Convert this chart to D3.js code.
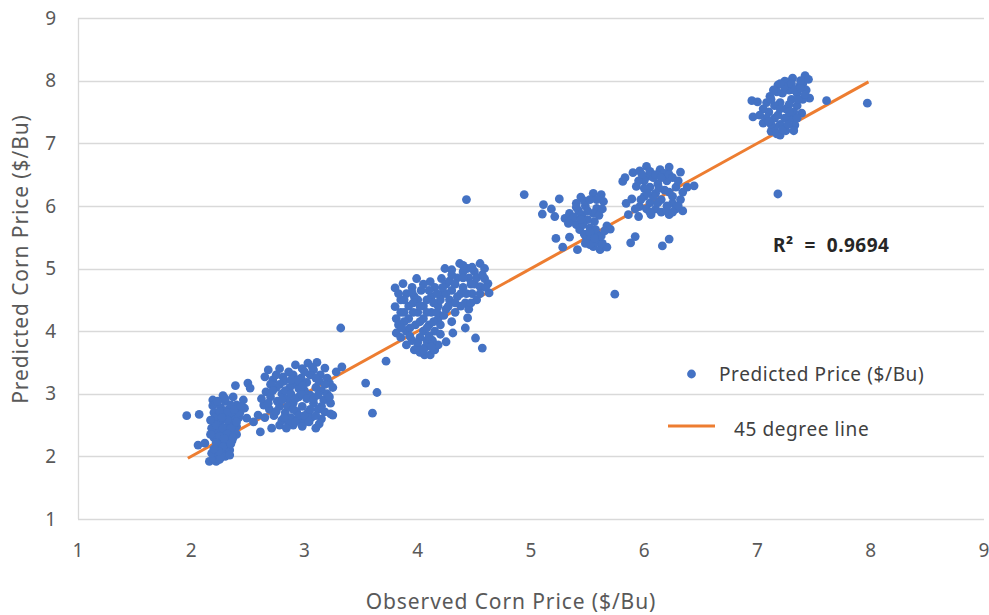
<!DOCTYPE html>
<html>
<head>
<meta charset="utf-8">
<title>Observed vs Predicted Corn Price</title>
<style>
    body { margin: 0; background: #fff; }
    text { font-family: "Noto Sans", "Open Sans", sans-serif; }
    .tick-label { font-size: 19px; fill: #595959; }
    .axis-title { font-size: 21px; fill: #595959; letter-spacing: 0.9px; }
    .legend-text { font-size: 19px; fill: #404040; letter-spacing: 0.6px; }
    .r2 { font-size: 19px; font-weight: bold; fill: #262626; white-space: pre; letter-spacing: 0.5px; }
</style>
</head>
<body>
<svg width="989" height="615"></svg>
<script src="https://d3js.org/d3.v7.min.js"></script>
<script>

// tick values on both axes
var xTicks = [1, 2, 3, 4, 5, 6, 7, 8, 9];
var yTicks = [1, 2, 3, 4, 5, 6, 7, 8, 9];

// 45 degree reference line, from lowest to highest observed price
var lineRange = [1.97, 7.98];

var rSquared = "0.9694";

// [observed, predicted], cluster by cluster
var cluster2 = [
    [1.96,2.65],[2.07,2.67],[2.06,2.18],[2.12,2.21],[2.16,1.92],[2.22,1.92],[2.20,1.97],[2.25,1.95],
    [2.18,2.05],[2.24,2.04],[2.19,2.90],[2.19,2.81],[2.28,2.97],[2.22,2.85],[2.26,2.78],[2.30,2.88],
    [2.33,2.75],[2.39,3.13],[2.37,2.95],[2.46,2.90],[2.50,3.17],[2.52,3.09],[2.47,2.77],[2.49,2.61],
    [2.55,2.55],[2.61,2.39],[2.59,2.66],[2.40,2.82],[2.20,2.70],[2.24,2.65],[2.28,2.60],[2.32,2.64],
    [2.36,2.68],[2.21,2.55],[2.26,2.50],[2.30,2.45],[2.34,2.52],[2.38,2.58],[2.40,2.48],[2.22,2.40],
    [2.27,2.35],[2.31,2.30],[2.35,2.38],[2.25,2.25],[2.29,2.20],[2.33,2.15],[2.20,2.30],[2.23,2.15],
    [2.27,2.10],[2.31,2.05],[2.36,2.25],[2.40,2.35],[2.42,2.62],[2.18,2.45],[2.24,2.58],[2.28,2.72],
    [2.35,2.82],[2.43,2.70],[2.38,2.42],[2.30,2.00],[2.26,1.98],[2.34,2.10],[2.21,2.62],[2.34,2.02],
    [2.23,2.88],[2.30,2.92],[2.25,2.72],[2.32,2.70],[2.38,2.75],[2.22,2.50],[2.28,2.45],[2.35,2.45],
    [2.25,2.32],[2.32,2.36],[2.29,2.28],[2.37,2.30],[2.22,2.22],[2.28,2.15],[2.35,2.20],[2.24,2.08],
    [2.20,2.12],[2.32,2.58],[2.27,2.62],[2.40,2.55],[2.44,2.80],[2.17,2.58],[2.17,2.35]
];

var cluster3 = [
    [2.68,3.38],[2.65,3.27],[2.72,3.22],[2.66,3.03],[2.64,2.82],[2.71,2.45],[2.92,3.46],[3.03,3.49],
    [3.11,3.50],[3.18,3.41],[3.33,3.43],[3.22,3.17],[3.17,2.90],[3.18,2.71],[3.25,2.66],[3.10,2.45],
    [2.90,2.50],[2.78,2.50],[2.81,3.27],[2.86,3.35],[2.98,3.40],[3.08,3.38],[3.14,3.30],[2.75,3.10],
    [2.80,3.00],[2.85,2.92],[2.90,2.85],[2.95,2.95],[3.00,3.05],[3.05,2.98],[3.10,3.10],[3.15,3.05],
    [2.78,2.80],[2.83,2.70],[2.88,2.62],[2.93,2.72],[2.98,2.80],[3.03,2.70],[3.08,2.85],[3.12,2.75],
    [2.70,2.95],[2.73,2.65],[2.80,2.58],[2.86,2.52],[2.95,2.58],[3.00,2.55],[3.06,2.62],[2.92,3.15],
    [2.97,3.25],[3.02,3.18],[2.87,3.10],[2.82,3.20],[3.13,3.20],[3.20,3.00],[3.23,2.85],[2.69,2.75],
    [2.76,2.88],[2.95,3.08],[3.05,3.30],[2.90,3.30],[2.84,2.45],[2.98,2.48],[3.15,2.60],[3.28,3.35],
    [3.20,3.25],[2.70,3.15],[2.62,2.92],[2.65,2.62],[3.23,2.68],
    [2.75,3.30],[2.78,3.15],[2.83,3.05],[2.88,3.00],[2.92,2.92],[2.97,3.00],[3.02,2.92],[3.08,2.92],
    [3.12,2.98],[3.18,3.15],[3.10,3.25],[3.00,3.35],[2.94,3.22],[2.88,3.22],[2.80,2.90],[2.85,2.80],
    [2.90,2.75],[2.95,2.65],[3.00,2.65],[3.05,2.75],[3.10,2.65],[3.15,2.80],[2.75,2.72],[2.82,2.62],
    [2.92,2.55],[3.04,2.55],[3.13,2.52],[2.72,3.05],[2.68,2.85],[3.25,3.10],[3.22,2.95],[2.98,3.12],
    [3.07,3.42],[2.78,3.40]
];

var scattered = [
    [3.32,4.05],[3.54,3.17],[3.64,3.02],[3.60,2.69],[3.72,3.52],[4.43,6.10],[5.74,4.59],[7.18,6.19]
];

var cluster4 = [
    [3.80,4.69],[3.87,4.76],[3.99,4.84],[4.11,4.79],[4.21,4.84],[4.24,5.00],[4.37,5.08],[4.44,5.00],
    [4.55,5.08],[4.59,5.00],[4.59,4.84],[4.62,4.76],[4.63,4.61],[4.55,4.71],[4.44,4.21],[4.42,4.05],
    [4.30,4.15],[4.31,3.97],[4.25,3.83],[4.51,3.89],[4.57,3.73],[4.06,3.62],[4.11,3.62],[3.81,3.97],
    [3.85,3.90],[3.90,3.78],[3.97,3.70],[4.02,3.66],[4.15,3.70],[4.18,3.78],[3.80,4.39],[3.81,4.20],
    [3.85,4.50],[3.85,4.30],[3.83,4.10],[3.90,4.60],[3.92,4.40],[3.92,4.20],[3.90,4.00],[3.95,3.85],
    [3.98,4.10],[4.00,4.30],[4.00,4.50],[4.03,4.65],[4.05,4.40],[4.05,4.20],[4.05,4.00],[4.08,3.85],
    [4.10,4.10],[4.12,4.30],[4.12,4.55],[4.15,4.00],[4.15,4.70],[4.18,4.40],[4.18,4.20],[4.20,3.95],
    [4.22,4.60],[4.00,3.75],[3.95,4.70],[4.07,3.75],[4.13,3.85],[3.88,4.15],[3.97,4.55],[4.10,4.65],
    [4.25,4.75],[4.30,4.65],[4.28,4.50],[4.35,4.85],[4.35,4.55],[4.40,4.70],[4.42,4.45],[4.45,4.85],
    [4.48,4.60],[4.50,4.75],[4.52,4.50],[4.50,4.95],[4.40,4.95],[4.30,4.90],[4.55,4.60],[4.60,4.70],
    [4.45,4.35],[4.38,4.40],[4.33,4.30],[4.25,4.35],[4.20,4.50],
    [3.83,4.60],[3.88,4.50],[3.88,4.30],[3.86,4.05],[3.93,4.05],[3.93,3.92],[3.96,4.30],[3.96,4.45],
    [4.02,4.40],[4.02,4.15],[4.02,3.90],[4.08,4.30],[4.08,4.50],[4.08,4.05],[4.10,3.92],[4.14,4.15],
    [4.14,4.45],[4.17,4.60],[4.17,4.30],[4.20,4.10],[4.23,4.25],[4.25,4.60],[4.28,4.80],[4.33,4.75],
    [4.38,4.60],[4.43,4.60],[4.47,4.75],[4.52,4.85],[4.57,4.90],[4.47,4.45],[4.40,4.85],[4.33,4.45],
    [4.27,4.40],[4.00,3.82],[4.05,3.70],[4.12,3.75],[3.95,4.62],[4.05,4.75],[4.22,4.70],[4.48,5.02],
    [4.40,5.05],[4.30,4.98]
];

var cluster55 = [
    [4.94,6.18],[5.11,6.02],[5.10,5.87],[5.18,5.95],[5.21,5.83],[5.25,6.11],[5.22,5.48],[5.28,5.34],
    [5.34,5.50],[5.41,5.30],[5.30,5.80],[5.34,5.88],[5.40,6.04],[5.44,6.14],[5.48,6.00],[5.55,6.20],
    [5.62,6.18],[5.64,6.07],[5.58,5.96],[5.56,5.75],[5.67,5.68],[5.70,5.63],[5.43,5.62],[5.49,5.48],
    [5.55,5.35],[5.61,5.30],[5.67,5.34],[5.36,5.78],[5.40,5.70],[5.45,5.85],[5.50,5.78],[5.52,5.65],
    [5.47,5.55],[5.53,5.50],[5.58,5.55],[5.60,5.45],[5.55,5.88],[5.42,5.92],[5.50,5.92],[5.58,5.42],
    [5.52,5.38],[5.63,5.40],[5.57,5.62],[5.38,5.82],[5.46,5.70],
    [5.40,5.98],[5.47,6.08],[5.52,6.10],[5.58,6.10],[5.52,5.58],[5.62,5.52],[5.65,5.60],[5.56,5.48],
    [5.48,5.40],[5.44,5.78],[5.33,5.72],[5.60,5.85],[5.63,5.95]
];

var cluster6 = [
    [5.81,6.39],[5.83,6.45],[5.90,6.53],[5.96,6.56],[6.02,6.63],[6.03,6.47],[6.14,6.58],[6.22,6.62],
    [6.18,6.52],[6.32,6.54],[6.44,6.32],[6.34,6.22],[6.34,5.92],[6.22,5.86],[6.25,6.04],[6.06,5.86],
    [5.95,5.83],[5.86,5.86],[5.84,6.04],[5.89,6.11],[5.96,5.99],[5.93,6.31],[5.92,5.51],[5.88,5.41],
    [6.22,5.47],[6.16,5.36],[6.00,6.40],[6.05,6.30],[6.10,6.20],[6.00,6.15],[6.05,6.05],[6.10,5.95],
    [6.15,6.10],[6.20,6.00],[6.25,6.15],[6.28,6.30],[6.12,6.35],[6.18,6.25],[6.02,5.95],[6.15,5.90],
    [6.08,6.45],[6.28,5.95],[6.00,6.28],[6.20,6.40],
    [5.95,6.40],[5.98,6.50],[6.05,6.55],[6.10,6.50],[6.15,6.45],[6.22,6.50],[6.25,6.45],[6.30,6.40],
    [6.32,6.10],[6.30,6.00],[6.22,6.22],[6.12,6.05],[6.08,6.15],[6.03,6.20],[5.97,6.10],[5.92,5.95],
    [6.05,5.90],[6.20,5.92],[6.38,6.30],[6.13,6.28],[6.25,5.90]
];

var cluster7 = [
    [7.97,7.64],[7.61,7.68],[7.46,7.72],[6.95,7.68],[7.00,7.66],[6.96,7.42],[7.11,7.75],[7.18,7.93],
    [7.24,7.99],[7.31,8.04],[7.42,8.08],[7.37,7.91],[7.39,7.48],[7.33,7.29],[7.20,7.13],[7.12,7.19],
    [7.05,7.32],[7.10,7.50],[7.15,7.40],[7.20,7.30],[7.25,7.20],[7.30,7.40],[7.25,7.55],[7.20,7.65],
    [7.15,7.60],[7.30,7.70],[7.35,7.60],[7.28,7.85],[7.22,7.80],[7.35,7.80],[7.40,7.95],[7.15,7.25],
    [7.08,7.40],[7.32,7.50],[7.18,7.45],[7.40,7.70],[7.27,7.98],[7.43,7.85],
    [7.05,7.55],[7.08,7.65],[7.12,7.30],[7.12,7.70],[7.17,7.15],[7.17,7.82],[7.20,7.55],[7.22,7.22],
    [7.24,7.40],[7.24,7.90],[7.27,7.30],[7.28,7.62],[7.30,7.95],[7.32,7.20],[7.33,7.85],[7.36,7.70],
    [7.38,7.88],[7.38,8.00],[7.42,7.78],[7.45,8.02],[7.20,7.95],[7.14,7.85],[7.10,7.35],[7.35,7.40],
    [7.28,7.50],[7.02,7.45]
];

var points = [].concat(cluster2, cluster3, scattered, cluster4, cluster55, cluster6, cluster7);

var svg = d3.select("svg");

var x = d3.scaleLinear().domain([1, 9]).range([78, 984]);
var y = d3.scaleLinear().domain([1, 9]).range([519, 18]);

// horizontal gridlines
svg.append("g").selectAll("line")
    .data(yTicks)
    .enter().append("line")
    .attr("x1", x(1)).attr("x2", x(9))
    .attr("y1", function(d) { return Math.round(y(d)) + 0.5; })
    .attr("y2", function(d) { return Math.round(y(d)) + 0.5; })
    .attr("stroke", "#d9d9d9")
    .attr("stroke-width", 1.3);

// left axis line
svg.append("line")
    .attr("x1", x(1) + 0.5).attr("x2", x(1) + 0.5)
    .attr("y1", y(9)).attr("y2", y(1))
    .attr("stroke", "#d9d9d9")
    .attr("stroke-width", 1.3);

// tick labels
svg.append("g").selectAll("text")
    .data(yTicks)
    .enter().append("text")
    .attr("class", "tick-label")
    .attr("x", 56)
    .attr("y", function(d) { return y(d); })
    .attr("dy", "0.35em")
    .attr("text-anchor", "end")
    .text(function(d) { return d; });

svg.append("g").selectAll("text")
    .data(xTicks)
    .enter().append("text")
    .attr("class", "tick-label")
    .attr("x", function(d) { return x(d); })
    .attr("y", 557)
    .attr("text-anchor", "middle")
    .text(function(d) { return d; });

// 45 degree line (under the dots)
svg.append("line")
    .attr("x1", x(lineRange[0])).attr("y1", y(lineRange[0]))
    .attr("x2", x(lineRange[1])).attr("y2", y(lineRange[1]))
    .attr("stroke", "#ed7d31")
    .attr("stroke-width", 3);

svg.append("g").selectAll("circle")
    .data(points)
    .enter().append("circle")
    .attr("cx", function(d) { return x(d[0]); })
    .attr("cy", function(d) { return y(d[1]); })
    .attr("r", 4.4)
    .attr("fill", "#4472c4");

// R squared label
svg.append("text")
    .attr("class", "r2")
    .attr("x", 773).attr("y", 252)
    .text("R²  =  " + rSquared);

// legend
var legend = svg.append("g");
legend.append("circle")
    .attr("cx", 691.5).attr("cy", 374)
    .attr("r", 4.4)
    .attr("fill", "#4472c4");
legend.append("text")
    .attr("class", "legend-text")
    .attr("x", 719).attr("y", 381)
    .text("Predicted Price ($/Bu)");
legend.append("line")
    .attr("x1", 668).attr("x2", 715)
    .attr("y1", 426).attr("y2", 426)
    .attr("stroke", "#ed7d31")
    .attr("stroke-width", 3);
legend.append("text")
    .attr("class", "legend-text")
    .attr("x", 734).attr("y", 436)
    .text("45 degree line");

// axis titles
svg.append("text")
    .attr("class", "axis-title")
    .attr("x", 511).attr("y", 609)
    .attr("text-anchor", "middle")
    .text("Observed Corn Price ($/Bu)");

svg.append("text")
    .attr("class", "axis-title")
    .attr("transform", "translate(28,259) rotate(-90)")
    .attr("text-anchor", "middle")
    .text("Predicted Corn Price ($/Bu)");

</script>
</body>
</html>
